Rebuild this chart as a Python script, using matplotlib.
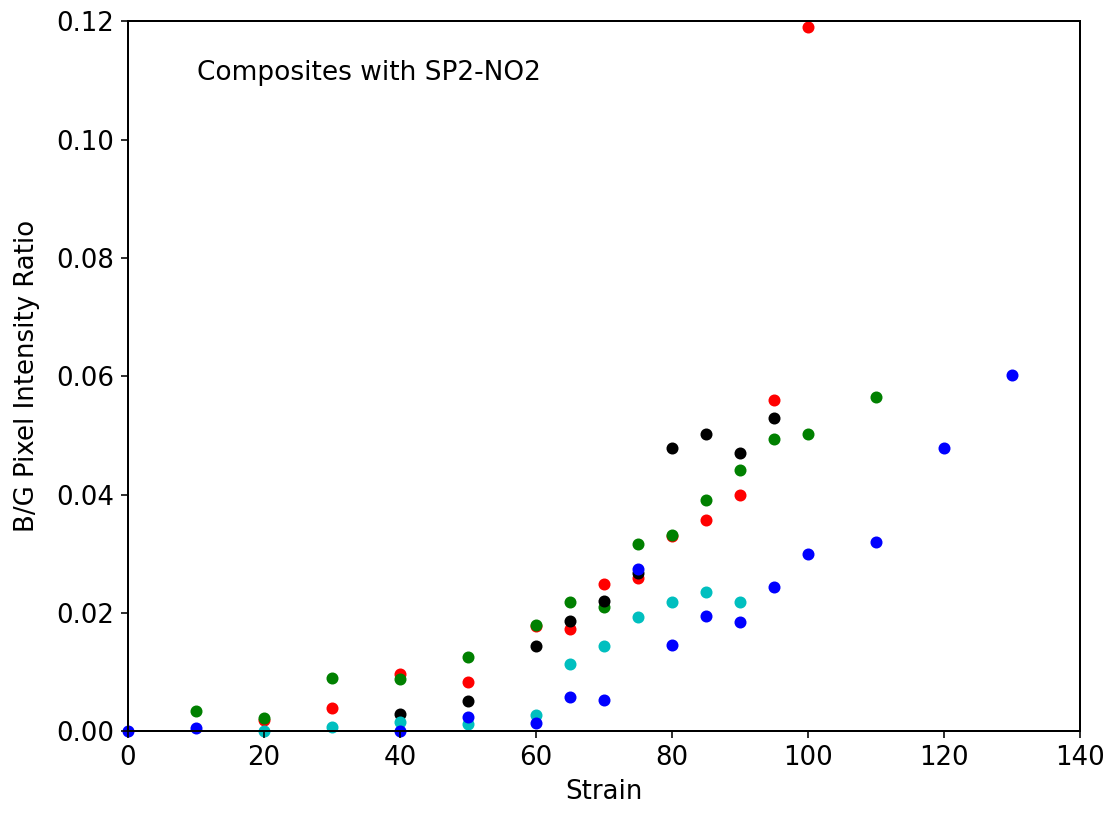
import matplotlib
matplotlib.use('Agg')
import matplotlib.pyplot as plt

# strain values and B/G ratios for each sample
red_x = [20, 30, 40, 50, 60, 65, 70, 75, 80, 85, 90, 95, 100]
red_y = [0.0019, 0.0039, 0.0096, 0.0083, 0.0177, 0.0172, 0.0248, 0.0259, 0.0330, 0.0357, 0.0400, 0.0560, 0.1190]

green_x = [10, 20, 30, 40, 50, 60, 65, 70, 75, 80, 85, 90, 95, 100, 110]
green_y = [0.0034, 0.0022, 0.0090, 0.0088, 0.0125, 0.0179, 0.0218, 0.0210, 0.0316, 0.0331, 0.0391, 0.0442, 0.0494, 0.0502, 0.0565]

black_x = [40, 50, 60, 65, 70, 75, 80, 85, 90, 95]
black_y = [0.0029, 0.0051, 0.0144, 0.0186, 0.0220, 0.0267, 0.0479, 0.0502, 0.0470, 0.0530]

cyan_x = [20, 30, 40, 50, 60, 65, 70, 75, 80, 85, 90]
cyan_y = [0.0000, 0.0007, 0.0015, 0.0013, 0.0027, 0.0113, 0.0144, 0.0193, 0.0218, 0.0235, 0.0218]

blue_x = [0, 10, 40, 50, 60, 65, 70, 75, 80, 85, 90, 95, 100, 110, 120, 130]
blue_y = [0.0000, 0.0005, 0.0000, 0.0024, 0.0014, 0.0058, 0.0053, 0.0274, 0.0146, 0.0195, 0.0185, 0.0244, 0.0300, 0.0320, 0.0479, 0.0602]

plt.rcParams['font.size'] = 13

fig = plt.figure(figsize=(1113 / 144, 817 / 144), dpi=144)
ax = fig.add_axes([0.115, 0.105, 0.855, 0.869])

# marker size a bit smaller than default
ms = 25
ax.scatter(red_x, red_y, c='r', s=ms, clip_on=False)
ax.scatter(green_x, green_y, c='g', s=ms, clip_on=False)
ax.scatter(black_x, black_y, c='k', s=ms, clip_on=False)
ax.scatter(cyan_x, cyan_y, c='c', s=ms, clip_on=False)
ax.scatter(blue_x, blue_y, c='b', s=ms, clip_on=False)

ax.text(10.1, 0.110, 'Composites with SP2-NO2', fontsize=13.2, va='baseline')

ax.set_xlim(0, 140)
ax.set_ylim(0, 0.12)
ax.set_xlabel('Strain')
ax.set_ylabel('B/G Pixel Intensity Ratio', labelpad=8)
for s in ax.spines.values():
    s.set_linewidth(1.0)

fig.savefig('out.png', dpi=144)
